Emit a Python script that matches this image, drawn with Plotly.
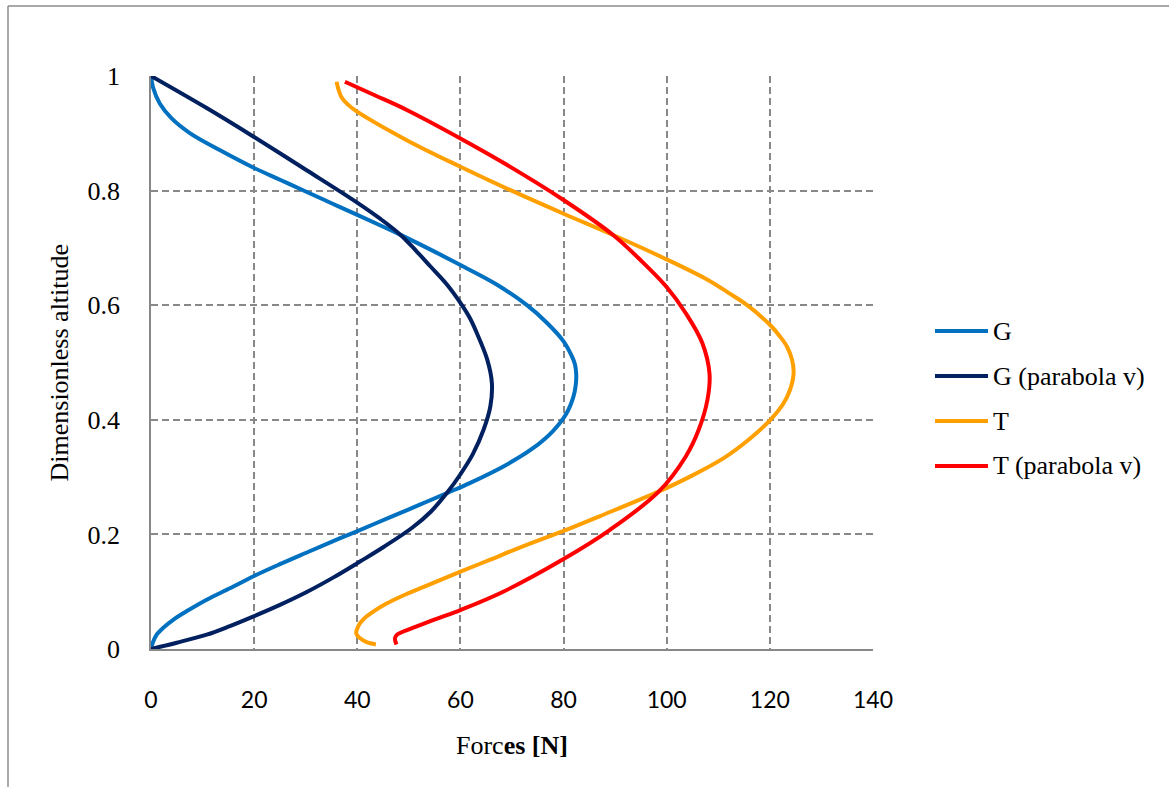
import plotly.graph_objects as go

# Force profiles along the dimensionless altitude (force in N, altitude 0..1)
g_force = [0, 0.3, 1.1, 2.5, 4.3, 7.3, 10.8, 15.3, 19.9, 25.0, 30.1, 35.0, 39.8, 46.4, 51.9, 57.5,
           61.9, 68.6, 74.0, 77.9, 80.5, 81.9, 82.35, 82.45, 82.2, 81.6, 80.0, 76.8, 72.9, 67.1,
           60.0, 54.2, 48.4, 44.3, 39.9, 35.0, 30.1, 25.0, 19.9, 13.5, 7.6, 4.0, 1.7, 0.4, 0]
g_alt = [0, 0.010, 0.025, 0.038, 0.051, 0.068, 0.086, 0.106, 0.127, 0.148, 0.168, 0.187, 0.205, 0.230, 0.251, 0.2725,
         0.290, 0.320, 0.350, 0.380, 0.410, 0.440, 0.460, 0.480, 0.497, 0.511, 0.537, 0.569, 0.600, 0.6356,
         0.670, 0.697, 0.7227, 0.740, 0.758, 0.778, 0.798, 0.819, 0.840, 0.870, 0.900, 0.926, 0.952, 0.980, 1]

gp_force = [0, 5.0, 10.8, 15.3, 19.9, 25.0, 30.1, 35.4, 40.6, 45.1, 50.7, 54.3, 57.4, 60.0, 62.4,
            64.5, 65.8, 66.1, 65.2, 63.2, 61.8, 60.0, 57.3, 54.2, 51.4, 48.4, 44.5, 39.9, 30.1, 19.9,
            10.8, 0]
gp_alt = [0, 0.011, 0.025, 0.040, 0.057, 0.077, 0.099, 0.125, 0.153, 0.178, 0.212, 0.240, 0.2725, 0.305, 0.340,
          0.383, 0.4235, 0.464, 0.505, 0.551, 0.578, 0.604, 0.637, 0.6675, 0.695, 0.7227, 0.7505, 0.7795, 0.836,
          0.894, 0.944, 1]

t_force = [43.6, 41.8, 40.5, 39.8, 40.2, 41.2, 42.9, 45.4, 48.8, 53.0, 60.0, 65.8, 71.5, 80.0, 87.1,
           98.5, 105.0, 111.2, 116.0, 120.1, 122.6, 123.9, 124.6, 124.3, 123.3, 122.0, 120.1, 115.6,
           111.9, 108.0, 99.5, 89.6, 79.9, 68.9, 59.9, 49.6, 39.6, 38.2, 37.0, 36.3, 36.0]
t_alt = [0.008, 0.012, 0.019, 0.027, 0.040, 0.052, 0.064, 0.078, 0.093, 0.109, 0.135, 0.156, 0.177, 0.206, 0.232,
         0.275, 0.303, 0.334, 0.366, 0.400, 0.428, 0.452, 0.480, 0.505, 0.528, 0.545, 0.565, 0.600,
         0.622, 0.644, 0.682, 0.7225, 0.760, 0.804, 0.842, 0.888, 0.940, 0.950, 0.962, 0.978, 0.990]

tp_force = [47.6, 47.3, 47.6, 48.3, 51.4, 55.5, 60.0, 68.3, 80.0, 89.0, 98.5, 103.7, 106.2, 107.9,
            108.3, 106.9, 103.7, 99.9, 95.0, 89.6, 80.0, 69.0, 60.0, 49.6, 43.5, 37.6]
tp_alt = [0.008, 0.018, 0.024, 0.028, 0.039, 0.053, 0.068, 0.100, 0.157, 0.208, 0.275, 0.336, 0.3825, 0.435,
          0.480, 0.534, 0.586, 0.6325, 0.678, 0.7225, 0.7836, 0.845, 0.891, 0.9407, 0.966, 0.990]

series_names = ["G", "G (parabola v)", "T", "T (parabola v)"]
series_colors = ["#0070C0", "#002060", "#FFA000", "#FF0000"]
series_force = [g_force, gp_force, t_force, tp_force]
series_alt = [g_alt, gp_alt, t_alt, tp_alt]

x_ticks = [0, 20, 40, 60, 80, 100, 120, 140]
y_ticks = [0, 0.2, 0.4, 0.6, 0.8, 1]

W, H = 1169, 787
L, R, T, B = 151, 296, 76, 138
PW, PH = W - L - R, H - T - B


def px(x):
    return (x - L) / PW


def py(y):
    return (H - B - y) / PH


fig = go.Figure()
for name, color, fx, alt in zip(series_names, series_colors, series_force, series_alt):
    fig.add_trace(go.Scatter(x=fx, y=alt, mode="lines", name=name,
                             line=dict(color=color, width=4, shape="spline", smoothing=1.0),
                             showlegend=False))

grid = "#888888"
serif = "Liberation Serif"

shapes = [
    # outer frame (left and top edges)
    dict(type="line", xref="paper", yref="paper", x0=px(8), x1=px(8), y0=py(H + 5), y1=py(6),
         line=dict(color="#8C8C8C", width=1.5)),
    dict(type="line", xref="paper", yref="paper", x0=px(8), x1=px(W + 5), y0=py(6), y1=py(6),
         line=dict(color="#8C8C8C", width=1.5)),
]
annotations = []

# legend drawn as line samples with labels
leg_rows = [331, 376, 421, 466]
for name, color, row in zip(series_names, series_colors, leg_rows):
    shapes.append(dict(type="line", xref="paper", yref="paper", x0=px(935), x1=px(988),
                       y0=py(row), y1=py(row), line=dict(color=color, width=4)))
    annotations.append(dict(text=name, xref="paper", yref="paper", x=px(991), y=py(row),
                            xanchor="left", yanchor="middle", showarrow=False,
                            font=dict(family=serif, size=26, color="black")))

annotations.append(dict(text="Forc<b>es [N]</b>", xref="paper", yref="paper", x=0.5, y=py(745),
                        xanchor="center", yanchor="middle", showarrow=False,
                        font=dict(family=serif, size=26, color="black")))
annotations.append(dict(text="Dimensionless altitude", xref="paper", yref="paper", x=px(59), y=0.5,
                        xanchor="center", yanchor="middle", showarrow=False, textangle=-90,
                        font=dict(family=serif, size=26, color="black")))

fig.update_layout(
    width=W, height=H, autosize=False,
    margin=dict(l=L, r=R, t=T, b=B, pad=0),
    paper_bgcolor="white", plot_bgcolor="white",
    shapes=shapes, annotations=annotations,
    xaxis=dict(range=[0, 140], tickvals=x_ticks, ticktext=[str(v) for v in x_ticks],
               showgrid=True, gridcolor=grid, gridwidth=1.6, griddash="7px,4px",
               showline=True, linecolor=grid, linewidth=1.6, zeroline=False,
               ticks="", ticklabelstandoff=30,
               tickfont=dict(family="Lato", size=23, color="black")),
    yaxis=dict(range=[0, 1], tickvals=y_ticks, ticktext=["0", "0.2", "0.4", "0.6", "0.8", "1"],
               showgrid=True, gridcolor=grid, gridwidth=1.6, griddash="7px,4px",
               showline=True, linecolor=grid, linewidth=1.6, zeroline=False,
               ticks="", ticklabelstandoff=24,
               tickfont=dict(family=serif, size=26, color="black")),
)

fig.write_html("out.html")
